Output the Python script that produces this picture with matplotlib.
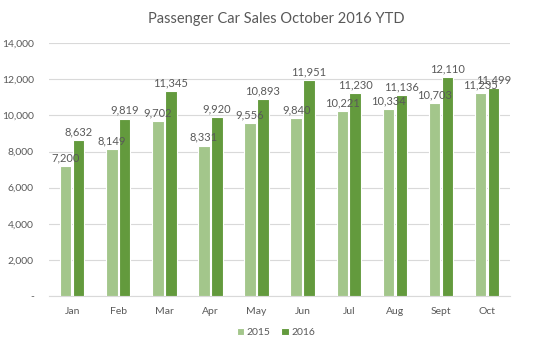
import matplotlib
matplotlib.use("Agg")
import matplotlib.pyplot as plt
import numpy as np
from matplotlib.ticker import FuncFormatter

months = ["Jan", "Feb", "Mar", "Apr", "May", "Jun", "Jul", "Aug", "Sept", "Oct"]
sales_2015 = [7200, 8149, 9702, 8331, 9556, 9840, 10221, 10334, 10703, 11235]
sales_2016 = [8632, 9819, 11345, 9920, 10893, 11951, 11230, 11136, 12110, 11499]

plt.rcParams['font.family'] = ['Lato', 'DejaVu Sans']
text_col = "#595959"
c15 = "#a3c68b"
c16 = "#639a3d"

fig = plt.figure(figsize=(5.52, 3.5), dpi=100)
ax = fig.add_axes([0.089, 0.154, 0.835, 0.723])

x = np.arange(len(months))
w = 0.25
off = 0.14
b1 = ax.bar(x - off, sales_2015, w, color=c15, edgecolor="white", linewidth=0.8, label="2015", zorder=3)
b2 = ax.bar(x + off, sales_2016, w, color=c16, edgecolor="white", linewidth=0.8, label="2016", zorder=3)

for xi, v in zip(x - off, sales_2015):
    ax.text(xi, v + 150, f"{v:,}", ha="center", va="bottom", fontsize=8, color=text_col, zorder=4)
for xi, v in zip(x + off, sales_2016):
    ax.text(xi, v + 150, f"{v:,}", ha="center", va="bottom", fontsize=8, color=text_col, zorder=4)

ax.set_xlim(-0.5, len(months) - 0.5)
ax.set_ylim(0, 14000)
ax.set_yticks(np.arange(0, 14001, 2000))
ax.yaxis.set_major_formatter(FuncFormatter(lambda v, p: "-" if v == 0 else f"{int(v):,}"))
ax.set_xticks(x)
ax.set_xticklabels(months)
ax.tick_params(axis="both", length=0, labelsize=7.5, colors=text_col)
ax.tick_params(axis="y", pad=11)
ax.tick_params(axis="x", pad=8)
ax.grid(axis="y", color="#d9d9d9", linewidth=0.8, zorder=0)
for s in ["top", "right", "left"]:
    ax.spines[s].set_visible(False)
ax.spines["bottom"].set_color("#d9d9d9")

fig.suptitle("Passenger Car Sales October 2016 YTD", y=0.965, fontsize=10.5, color=text_col)
fig.legend(handles=[b1, b2], labels=["2015", "2016"], loc="center", bbox_to_anchor=(0.5, 0.05),
           ncol=2, frameon=False, fontsize=7.5, labelcolor=text_col, handlelength=0.7, handleheight=0.7,
           handletextpad=0.3, columnspacing=1.0)

fig.savefig("out.png", dpi=100, facecolor="white")
